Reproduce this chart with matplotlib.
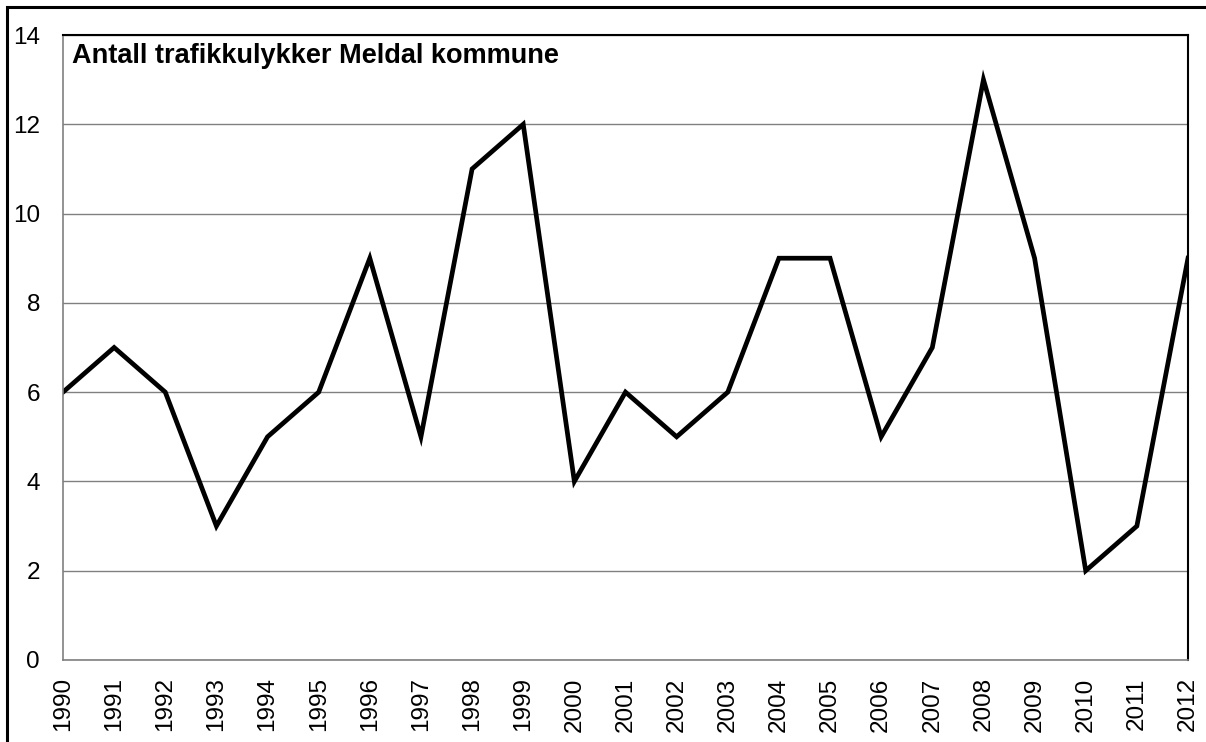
import matplotlib.pyplot as plt
from matplotlib.patches import Rectangle

years = list(range(1990, 2013))
ulykker = [6, 7, 6, 3, 5, 6, 9, 5, 11, 12, 4, 6, 5, 6, 9, 9, 5, 7, 13, 9, 2, 3, 9]
title = "Antall trafikkulykker Meldal kommune"

plt.rcParams["font.family"] = ["Liberation Sans", "DejaVu Sans"]

fig = plt.figure(figsize=(12.06, 7.42), dpi=100)
ax = fig.add_axes([63 / 1206, 1 - 660 / 742, (1188 - 63) / 1206, (660 - 35) / 742])

# outer chart frame (cut off at right and bottom)
fig.patches.append(Rectangle((7 / 1206, -0.1), 1.2, 1 - 7 / 742 + 0.1,
                             transform=fig.transFigure, fill=False,
                             edgecolor="black", linewidth=2.2))

ax.plot(years, ulykker, color="black", linewidth=3.4, solid_joinstyle="miter")

ax.set_xlim(1990, 2012)
ax.set_ylim(0, 14)
ax.set_yticks(range(0, 15, 2))
ax.set_xticks(years)
ax.set_xticklabels([str(y) for y in years], rotation=90)
ax.tick_params(axis="both", length=0, labelsize=17.5)
ax.tick_params(axis="y", pad=16.5)
ax.tick_params(axis="x", pad=12.5)
ax.grid(axis="y", color="#808080", linewidth=1)
ax.set_axisbelow(True)

for side in ("left", "bottom"):
    ax.spines[side].set_color("#808080")
    ax.spines[side].set_linewidth(1.2)
for side in ("top", "right"):
    ax.spines[side].set_color("black")
    ax.spines[side].set_linewidth(1.5)

ax.text(0.008, 0.955, title, transform=ax.transAxes, fontsize=19.5,
        fontweight="bold", va="baseline", ha="left")

fig.savefig("out.png", dpi=100)
